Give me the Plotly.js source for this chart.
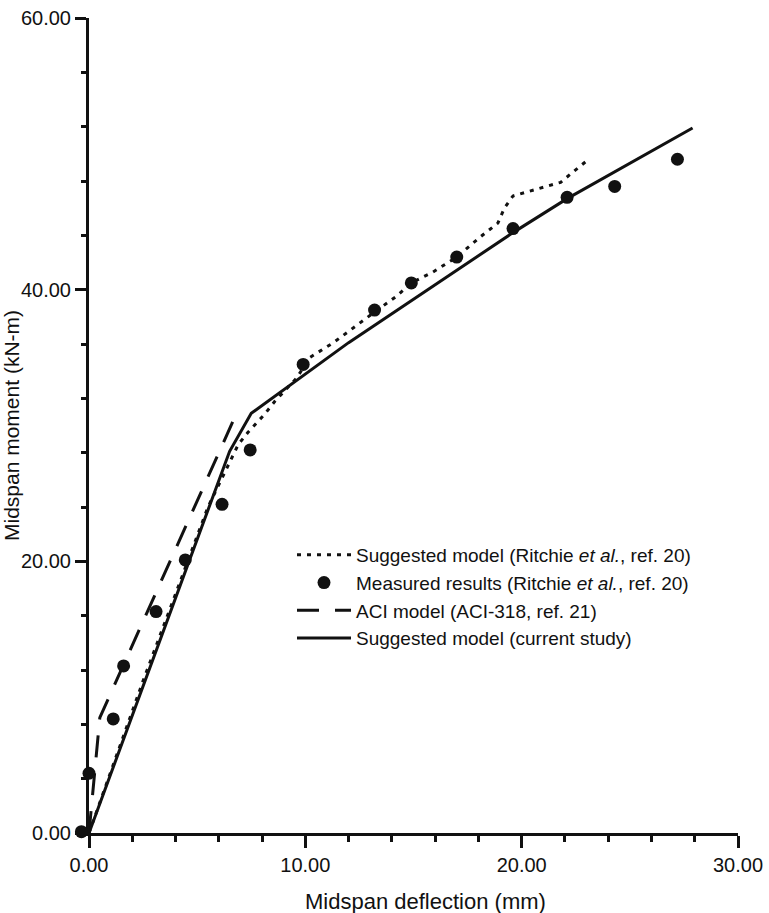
<!DOCTYPE html>
<html>
<head>
<meta charset="utf-8">
<script src="https://cdn.plot.ly/plotly-3.0.1.min.js"></script>
<style>html,body{margin:0;padding:0;background:#fff;}#chart{width:769px;height:913px;}</style>
</head>
<body>
<div id="chart"></div>
<script>
// Suggested model (Ritchie et al., ref. 20)
const ritchieX = [0, 2.5, 5.5, 6.9, 7.35, 8.1, 8.6, 9.6, 10.2, 11.3, 12.9, 14.2, 14.9, 15.9, 17.0, 18.1, 18.9, 19.2, 19.6, 20.5, 21.8, 22.4, 23.1];
const ritchieY = [0, 11.2, 24.0, 28.6, 29.5, 30.8, 31.8, 33.5, 35.0, 36.1, 38.0, 39.5, 40.5, 41.3, 42.4, 43.9, 44.9, 46.0, 46.9, 47.3, 47.9, 48.7, 49.6];
// Measured results (Ritchie et al., ref. 20)
const measuredX = [-0.35, 0.0, 1.12, 1.6, 3.1, 4.45, 6.15, 7.45, 9.9, 13.2, 14.9, 17.0, 19.6, 22.1, 24.3, 27.2];
const measuredY = [0.1, 4.4, 8.4, 12.3, 16.3, 20.1, 24.2, 28.2, 34.5, 38.5, 40.5, 42.4, 44.5, 46.8, 47.6, 49.6];
// ACI model (ACI-318, ref. 21)
const aciX = [0, 0.5, 6.85];
const aciY = [0, 8.5, 31.0];
// Suggested model (current study)
const currentX = [0, 6.5, 7.5, 12.0, 19.6, 22.1, 27.9];
const currentY = [0, 28.1, 30.9, 36.1, 44.2, 46.7, 51.9];

const names = [
  'Suggested model (Ritchie <i>et al.</i>, ref. 20)',
  'Measured results (Ritchie <i>et al.</i>, ref. 20)',
  'ACI model (ACI-318, ref. 21)',
  'Suggested model (current study)'
];
const xTitle = 'Midspan deflection (mm)';
const yTitle = 'Midspan moment (kN-m)';

const black = '#111';
const FONT = 'Liberation Sans, Arial, sans-serif';

// plot area: y axis at 89px, right end at 738px; extra left room lets the
// measured point at negative deflection be drawn (hidden helper axis x2)
const W = 769, H = 913, ML = 59, MR = 31, MT = 18, MB = 80;
const innerW = W - ML - MR;            // 679
const innerH = H - MT - MB;            // 815
const axisOffset = 30;                 // px from paper left to y axis
const xMax = 30;
const pxPerUnit = (innerW - axisOffset) / xMax;
const x2Min = -axisOffset / pxPerUnit;

const traces = [
  {x: ritchieX, y: ritchieY, mode: 'lines', name: names[0], legendgroup: 'a',
   line: {color: black, width: 3, dash: '4px,6px'}, cliponaxis: false},
  {x: measuredX, y: measuredY, mode: 'markers', name: names[1], legendgroup: 'b',
   xaxis: 'x2', yaxis: 'y',
   marker: {color: black, size: 13}, cliponaxis: false},
  {x: aciX, y: aciY, mode: 'lines', name: names[2], legendgroup: 'c',
   line: {color: black, width: 3, dash: '22px,16px'}, cliponaxis: false},
  {x: currentX, y: currentY, mode: 'lines', name: names[3], legendgroup: 'd',
   line: {color: black, width: 3}, cliponaxis: false}
];

const layout = {
  width: W, height: H,
  margin: {l: ML, r: MR, t: MT, b: MB},
  paper_bgcolor: '#fff', plot_bgcolor: 'rgba(0,0,0,0)',
  font: {family: FONT, color: black, size: 19},
  showlegend: true,
  legend: {x: (292 - ML) / innerW, y: (MT + innerH - 536) / innerH, xanchor: 'left', yanchor: 'top',
           font: {family: FONT, size: 19, color: black},
           bgcolor: 'rgba(0,0,0,0)', tracegroupgap: 0, itemwidth: 54},
  annotations: [{
    text: xTitle, xref: 'paper', yref: 'paper',
    x: (425 - ML) / innerW, y: -(901 - MT - innerH) / innerH,
    xanchor: 'center', yanchor: 'middle', showarrow: false,
    font: {size: 22, family: FONT, color: black}
  }],
  xaxis: {
    domain: [axisOffset / innerW, 1],
    range: [0, xMax], dtick: 10, tickformat: '.2f',
    showgrid: false, zeroline: false,
    showline: true, linecolor: black, linewidth: 3,
    ticks: 'outside', ticklen: 12, tickwidth: 3, tickcolor: black,
    minor: {dtick: 2, ticks: 'outside', ticklen: 6, tickwidth: 3, tickcolor: black, showgrid: false},
    tickfont: {size: 20, family: FONT, color: black}
  },
  xaxis2: {
    domain: [0, 1], anchor: 'y',
    range: [x2Min, xMax], visible: false, showgrid: false, zeroline: false
  },
  yaxis: {
    range: [0, 60], dtick: 20, tickformat: '.2f',
    showgrid: false, zeroline: false,
    showline: true, linecolor: black, linewidth: 3,
    ticks: 'outside', ticklen: 11, tickwidth: 3, tickcolor: black,
    minor: {dtick: 4, ticks: 'outside', ticklen: 5, tickwidth: 3, tickcolor: black, showgrid: false},
    tickfont: {size: 20, family: FONT, color: black},
    title: {text: yTitle, font: {size: 21, family: FONT, color: black}, standoff: 6}
  }
};

Plotly.newPlot('chart', traces, layout, {displayModeBar: false, staticPlot: true});
</script>
</body>
</html>
